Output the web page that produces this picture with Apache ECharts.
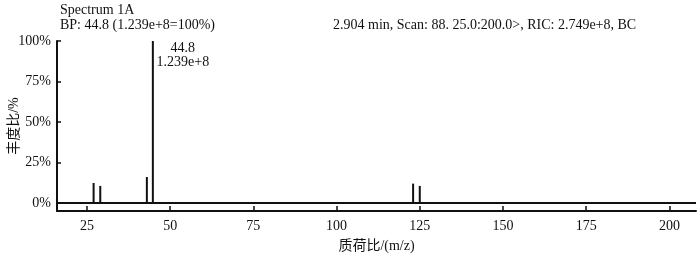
<!DOCTYPE html>
<html>
<head>
<meta charset="utf-8">
<script src="https://cdn.jsdelivr.net/npm/echarts@6/dist/echarts.min.js"></script>
<style>html,body{margin:0;padding:0;background:#fff;}#c{width:700px;height:255px;}</style>
</head>
<body>
<div id="c"></div>
<script>
// ---- data ----
const mzValues = [27, 29, 43, 44.8, 123, 125];
const relAbundance = [12.3, 10.5, 16, 100, 11.9, 10.5];
const xTickValues = [25, 50, 75, 100, 125, 150, 175, 200];
const yTickValues = [0, 25, 50, 75, 100];
const basePeakIndex = 3;
const basePeakLabel = ['44.8', '1.239e+8'];
const titleLine1 = 'Spectrum 1A';
const titleLine2 = 'BP: 44.8 (1.239e+8=100%)';
const infoText = '2.904 min, Scan: 88. 25.0:200.0>, RIC: 2.749e+8, BC';
const xName = '质荷比/(m/z)';
const yName = '丰度比/%';

const FONT = "'Liberation Serif', 'Times New Roman', 'Noto Sans CJK SC', serif";
const INK = '#111';

const chart = echarts.init(document.getElementById('c'));
const seriesData = mzValues.map((m, i) => {
  const d = { value: [m, relAbundance[i]] };
  if (i === basePeakIndex) {
    d.label = {
      show: true,
      formatter: basePeakLabel.join('\n'),
      position: [31, 0],
      align: 'center',
      verticalAlign: 'top',
      fontFamily: FONT,
      fontSize: 14,
      lineHeight: 14,
      color: INK
    };
  }
  return d;
});

chart.setOption({
  animation: false,
  backgroundColor: '#fff',
  graphic: [
    { type: 'text', style: { text: titleLine1, x: 60, y: 10, fontFamily: FONT, fontSize: 14, fill: INK, verticalAlign: 'middle' } },
    { type: 'text', style: { text: titleLine2, x: 60, y: 25, fontFamily: FONT, fontSize: 14, fill: INK, verticalAlign: 'middle' } },
    { type: 'text', style: { text: infoText, x: 333, y: 25, fontFamily: FONT, fontSize: 14, fill: INK, verticalAlign: 'middle' } }
  ],
  grid: { left: 57, right: 4, top: 41, bottom: 44, containLabel: false, outerBoundsMode: 'none' },
  xAxis: {
    type: 'value',
    min: 16, max: 208,
    name: xName,
    nameLocation: 'middle',
    nameGap: 28,
    nameMoveOverlap: false,
    nameTextStyle: { fontFamily: FONT, fontSize: 14, color: INK },
    axisLine: { show: true, onZero: false, lineStyle: { color: INK, width: 2 } },
    axisTick: { show: true, inside: true, length: 5, customValues: xTickValues, lineStyle: { color: INK, width: 1.5 } },
    axisLabel: { customValues: xTickValues, margin: 8, fontFamily: FONT, fontSize: 14, color: INK },
    splitLine: { show: false }
  },
  yAxis: {
    type: 'value',
    min: -5, max: 100,
    name: yName,
    nameLocation: 'middle',
    nameGap: 36,
    nameMoveOverlap: false,
    nameTextStyle: { fontFamily: FONT, fontSize: 14, color: INK },
    axisLine: { show: true, onZero: false, lineStyle: { color: INK, width: 2 } },
    axisTick: { show: true, inside: true, length: 4, customValues: yTickValues, lineStyle: { color: INK, width: 1.5 } },
    axisLabel: { customValues: yTickValues, margin: 6, fontFamily: FONT, fontSize: 14, color: INK, formatter: v => v + '%' },
    splitLine: { show: false }
  },
  series: [{
    type: 'bar',
    barWidth: 2,
    data: seriesData,
    itemStyle: { color: INK },
    markLine: {
      silent: true,
      symbol: 'none',
      label: { show: false },
      lineStyle: { color: INK, width: 2, type: 'solid' },
      data: [{ yAxis: 0 }]
    }
  }]
});
</script>
</body>
</html>
